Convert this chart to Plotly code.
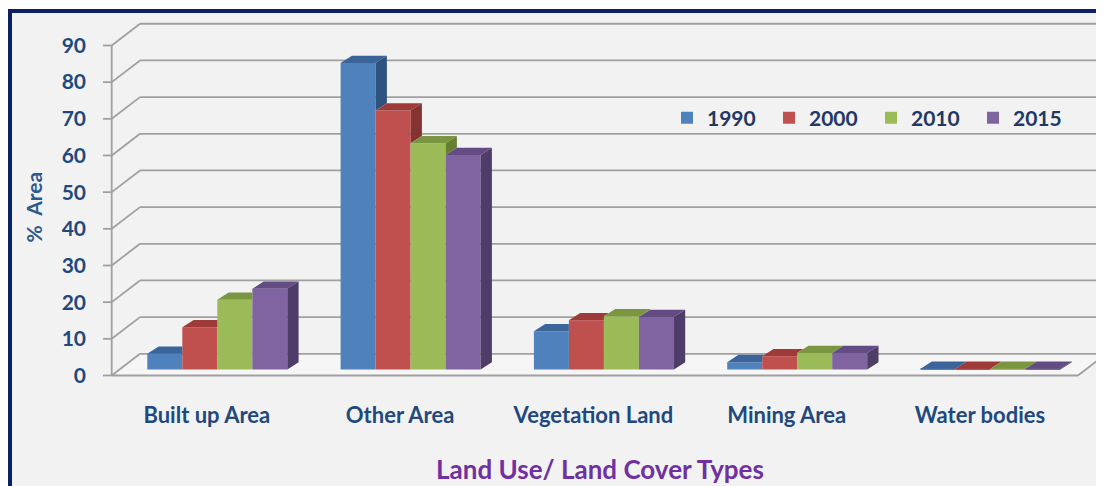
import plotly.graph_objects as go

# ---------------- data ----------------
categories = ["Built up Area", "Other Area", "Vegetation Land", "Mining Area", "Water bodies"]
years = ["1990", "2000", "2010", "2015"]
v1990 = [4.3, 83.6, 10.4, 2.0, 0.2]
v2000 = [11.5, 70.6, 13.4, 3.6, 0.2]
v2010 = [19.0, 61.7, 14.5, 4.5, 0.2]
v2015 = [22.0, 58.5, 14.3, 4.5, 0.2]
y_ticks = [0, 10, 20, 30, 40, 50, 60, 70, 80, 90]

series = [v1990, v2000, v2010, v2015]

# ---------------- styles ----------------
front_colors = ["#4f81bd", "#c0504d", "#9bbb59", "#8064a2"]
top_colors = ["#3b659a", "#9e3b38", "#7a9640", "#634c84"]
side_colors = ["#2f5380", "#863230", "#667f32", "#4e3c69"]
GRID_COLOR = "#a0a0a0"
BG = "#f2f2f2"
TEXT_BLUE = "#1f497d"
FONT = "Lato"

# ---------------- geometry ----------------
# Screen-pixel layout; the page body has an 8px margin, so the figure
# origin sits at (8, 8) of the window.
OFF = 8
W, H = 1104 - OFF, 486 - OFF


def s(p):
    """screen pixel -> figure pixel"""
    return p - OFF


PLOT_L, PLOT_R, PLOT_T, PLOT_B = s(96), W, s(15), s(380)
CAT0_PX, CAT_STEP_PX = s(206.8), 193.3
BASE_PX, UNIT_PX = s(369.5), 3.667


def px_x(p):
    return (p - CAT0_PX) / CAT_STEP_PX


def dx_u(d):
    return d / CAT_STEP_PX


def dy_u(d):
    return d / UNIT_PX


x_range = [px_x(PLOT_L), px_x(PLOT_R)]
y_range = [(BASE_PX - PLOT_B) / UNIT_PX, (BASE_PX - PLOT_T) / UNIT_PX]

FX = px_x(s(111.7))          # front vertical axis
TICK_X = px_x(s(103))        # tick start
FY0 = -dy_u(6)               # front plane offset of value 0
WDX, WDY = dx_u(28.3), dy_u(21.7)   # wall depth
FLOOR_RX = px_x(s(1078))     # right end of floor front edge
SHIFT = dx_u(10.5)           # bar plane offset
BW = dx_u(35)                # bar width
BDX, BDY = dx_u(11.3), dy_u(7.3)    # bar depth


def paper_x(p):
    return (p - PLOT_L) / (PLOT_R - PLOT_L)


def paper_y(p):
    return (PLOT_B - p) / (PLOT_B - PLOT_T)


fig = go.Figure()

# ---------------- front faces (bars) ----------------
for j, (yr, vals) in enumerate(zip(years, series)):
    xs = [i + SHIFT + (j - 1.5) * BW for i in range(len(categories))]
    fig.add_trace(go.Bar(
        x=xs, y=vals, width=BW, name=yr,
        marker=dict(color=front_colors[j], line=dict(width=0)),
        hovertext=categories, hoverinfo="text+y+name",
    ))

# ---------------- top and side faces ----------------
for i in range(len(categories)):
    for j in range(len(series)):
        v = series[j][i]
        vn = series[j + 1][i] if j + 1 < len(series) else None
        x0 = i + SHIFT + (j - 2) * BW
        x1 = x0 + BW
        # top face, clipped by a taller neighbour
        if vn is None or vn <= v:
            tx = [x0, x1, x1 + BDX, x0 + BDX]
            ty = [v, v, v + BDY, v + BDY]
        elif vn < v + BDY:
            s_e = 1 - (vn - v) / BDY
            tx = [x0, x1, x1, x1 + s_e * BDX, x0 + BDX]
            ty = [v, v, vn, v + BDY, v + BDY]
        else:
            tx = [x0, x1, x1, x0 + BDX]
            ty = [v, v, v + BDY, v + BDY]
        fig.add_trace(go.Scatter(
            x=tx, y=ty, fill="toself", fillcolor=top_colors[j], mode="lines",
            line=dict(width=0, color=top_colors[j]), showlegend=False, hoverinfo="skip",
        ))
        # side face, visible above the next bar
        lo = vn if vn is not None else 0
        if v > lo:
            fig.add_trace(go.Scatter(
                x=[x1, x1, x1 + BDX, x1 + BDX],
                y=[lo, v, v + BDY, lo + BDY],
                fill="toself", fillcolor=side_colors[j], mode="lines",
                line=dict(width=0, color=side_colors[j]), showlegend=False, hoverinfo="skip",
            ))

# ---------------- walls, floor, grid ----------------
shapes = []
# frame
shapes.append(dict(
    type="rect", xref="paper", yref="paper", layer="below",
    x0=paper_x(s(10)), x1=1.05, y0=-0.5, y1=paper_y(s(11)),
    fillcolor=BG, line=dict(color="#0b2163", width=4),
))
# floor
shapes.append(dict(
    type="path", xref="x", yref="y", layer="below",
    path=(f"M{FX},{FY0} L{FLOOR_RX},{FY0} L{FLOOR_RX + WDX},{FY0 + WDY} "
          f"L{FX + WDX},{FY0 + WDY} Z"),
    fillcolor="#f6f6f6", line=dict(width=0),
))
line_style = dict(color=GRID_COLOR, width=1.8)
for t in y_ticks:
    yf = t + FY0
    yb = t + FY0 + WDY
    shapes.append(dict(type="line", xref="x", yref="y", layer="below",
                       x0=FX + WDX, x1=x_range[1] + 1, y0=yb, y1=yb, line=line_style))
    shapes.append(dict(type="line", xref="x", yref="y", layer="below",
                       x0=FX, x1=FX + WDX, y0=yf, y1=yb, line=line_style))
    shapes.append(dict(type="line", xref="x", yref="y", layer="below",
                       x0=TICK_X, x1=FX, y0=yf, y1=yf, line=line_style))
shapes.append(dict(type="line", xref="x", yref="y", layer="below",
                   x0=FX, x1=FX, y0=FY0, y1=y_ticks[-1] + FY0, line=line_style))
shapes.append(dict(type="line", xref="x", yref="y", layer="below",
                   x0=FX, x1=FLOOR_RX, y0=FY0, y1=FY0, line=line_style))
shapes.append(dict(type="line", xref="x", yref="y", layer="below",
                   x0=FLOOR_RX, x1=FLOOR_RX + WDX, y0=FY0, y1=FY0 + WDY, line=line_style))

fig.update_layout(
    width=W, height=H,
    margin=dict(l=PLOT_L, r=W - PLOT_R, t=PLOT_T, b=H - PLOT_B, pad=0, autoexpand=False),
    paper_bgcolor="white", plot_bgcolor=BG,
    barmode="overlay",
    shapes=shapes,
    font=dict(family=FONT, color=TEXT_BLUE),
    showlegend=True,
    legend=dict(
        orientation="h", x=paper_x(s(667)), xanchor="left",
        y=paper_y(s(118)), yanchor="middle",
        bgcolor="rgba(0,0,0,0)", borderwidth=0,
        font=dict(family=FONT, size=21, color="#1f3864", weight="bold"),
        entrywidth=57, entrywidthmode="pixels", traceorder="normal",
    ),
    annotations=[dict(
        text="%\u00a0\u00a0Area", textangle=-90, showarrow=False,
        xref="paper", yref="paper", x=paper_x(s(32.5)), y=paper_y(s(207)),
        xanchor="center", yanchor="middle",
        font=dict(family=FONT, size=21, color="#2b5a8c", weight="bold"),
    )],
    xaxis=dict(
        range=x_range, tickvals=list(range(len(categories))), ticktext=categories,
        showgrid=False, zeroline=False, showline=False, ticks="",
        tickfont=dict(family=FONT, size=22, color=TEXT_BLUE, weight="bold"),
        ticklabelstandoff=20, fixedrange=True, automargin=False,
        title=dict(text="Land Use/ Land Cover Types", standoff=33,
                   font=dict(family=FONT, size=26, color="#7030a0", weight="bold")),
    ),
    yaxis=dict(
        range=y_range, tickvals=[t + FY0 for t in y_ticks], ticktext=[str(t) for t in y_ticks],
        showgrid=False, zeroline=False, showline=False, ticks="",
        tickfont=dict(family=FONT, size=21, color=TEXT_BLUE, weight="bold"),
        ticklabelstandoff=9, fixedrange=True, automargin=False,
    ),
)

fig.write_html("out.html")
